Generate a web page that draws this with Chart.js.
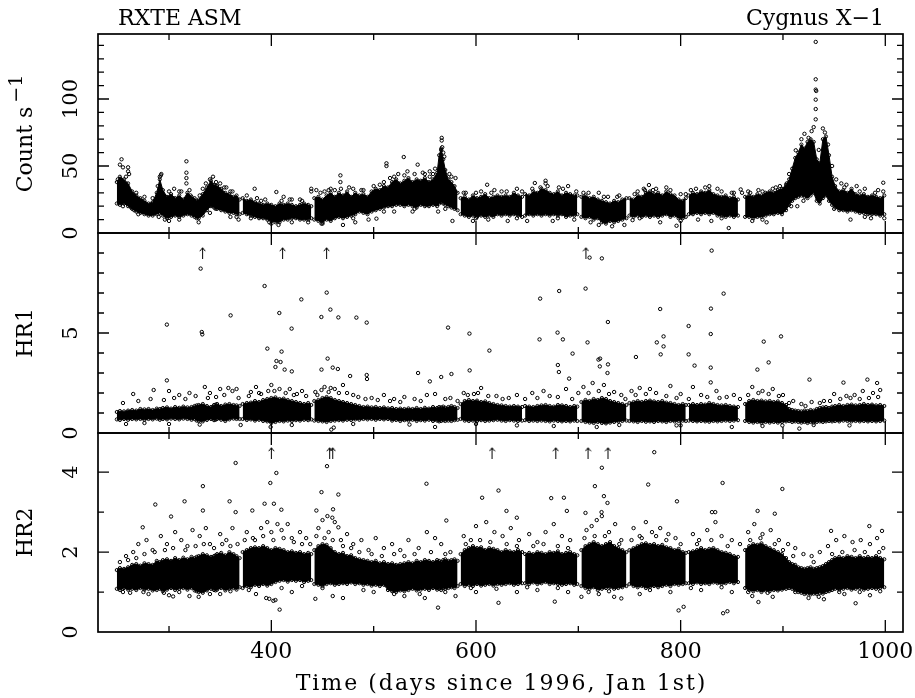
<!DOCTYPE html>
<html>
<head>
<meta charset="utf-8">
<script src="https://cdn.jsdelivr.net/npm/chart.js@4.4.1/dist/chart.umd.min.js"></script>
<style>
  html, body { margin: 0; padding: 0; background: #fff; }
  #wrap { position: relative; width: 915px; height: 698px; }
  canvas { position: absolute; left: 0; }
</style>
</head>
<body>
<div id="wrap">
  <canvas id="countPanel" width="915" height="245" style="top:0px"></canvas>
  <canvas id="hr1Panel" width="915" height="224" style="top:221px"></canvas>
  <canvas id="hr2Panel" width="915" height="277" style="top:421px"></canvas>
</div>
<script>
// Binned envelope of the dense light-curve band (days since 1996 Jan 1st); null = data gap
const days = [
  249, 252, 256, 260, 264, 268, 272, 276, 280, 284, 288, 291, 294, 298, 302, 306, 310, 314, 318, 322, 325, 327, 329, 333, 337, 341, 344, 345.5, 347, 351, 355, 359, 363, 366, 369, 370.5,
  372, 376, 380, 384, 388, 392, 396, 400, 404, 408, 412, 416, 420, 424, 428, 432, 436, 439, 440.5,
  442, 446, 450, 454, 458, 462, 466, 470, 474, 478, 482, 486, 490, 494, 498, 502, 506, 510, 514, 518, 522, 526, 530, 534, 538, 542, 546, 550, 554, 558, 562, 564, 566, 568, 570, 573, 576, 579, 582, 583.5,
  585, 589, 593, 597, 601, 605, 609, 613, 617, 621, 625, 629, 633, 637, 641, 645, 646.5,
  648, 652, 656, 660, 664, 668, 672, 676, 680, 684, 688, 692, 696, 699, 701,
  703, 707, 711, 715, 719, 723, 727, 731, 735, 739, 743, 747, 748.5,
  750, 754, 758, 762, 766, 770, 774, 778, 782, 786, 790, 794, 798, 802, 805, 806.5,
  808, 812, 816, 820, 824, 828, 832, 836, 840, 844, 848, 852, 856, 859,
  863, 867, 871, 875, 879, 883, 887, 891, 895, 899, 903, 906, 909, 912, 915, 918, 921, 924, 927, 930, 933, 936, 939, 942, 945, 948, 951, 955, 959, 963, 967, 971, 975, 979, 983, 987, 991, 995, 999
];

const countLo = [
  22,21,22,20,18,16,15,14,13,13, 14,15,13,11,12,13,12,13,14,13, 12,11, 11,13,17,20,19, 18, 18,17,16,15,15,14,14, null,
  15,14,13,12,11,11,10,9,8,8, 10,10,11,11,10,10,10,11, null,
  10,9,8,10,9,11,12,11,12,13, 14,16,15,14,16,17,18,19,20,20, 21,21,20,21,20,19,21,20,20,21, 20,22,23,22,21,20,19,18,17, null,
  14,13,12,13,12,13,12,13,12,14, 13,14,13,14,13,12, null,
  13,14,13,14,13,14,13,14,13,14, 12,13,13,14, null,
  12,11,12,10,11,8,7,9,8,9, 10,11, null,
  13,12,13,12,13,12,13,12,13,14, 12,13,11,11,12, null,
  14,14,15,14,15,14,15,13,13,12, 13,12,13, null,
  12,12,11,12,12,13,14,14,15,14, 17,21,24,26,27,28,27,26,28,30, 24,22,26,28,24,21,19,17,17,16, 17,16,15,15,14,14,14,13,14
];
const countHi = [
  38,42,40,37,31,28,26,24,22,23, 30,40,32,27,29,26,28,25,30,27, 26,24, 25,29,34,39,36, 35, 35,33,30,29,27,28,25, null,
  26,24,25,23,22,21,22,21,20,22, 21,22,21,20,21,22,21,20, null,
  26,27,25,28,30,27,30,28,31,27, 30,28,29,27,31,33,32,35,34,38, 40,37,39,41,38,40,39,41,38,40, 45,58,63,55,47,40,38,35,30, null,
  26,27,25,28,26,27,29,26,27,28, 27,28,27,30,28,27, null,
  29,28,31,30,33,32,30,29,31,28, 30,29,28,28, null,
  27,28,26,27,25,24,23,22,24,23, 25,26, null,
  26,25,28,27,30,31,29,30,28,31, 29,28,25,24,26, null,
  28,30,29,31,30,32,29,28,27,28, 26,27,25, null,
  27,28,27,29,28,30,31,30,32,33, 36,40,48,56,60,66,63,68,70,68, 55,52,70,72,58,42,35,31,32,30, 33,29,28,29,27,28,27,26,28
];

const hr1Lo = [
  0.68,0.65,0.7,0.66,0.7,0.68,0.7,0.66,0.7,0.68, 0.72,0.66,0.7,0.68,0.72,0.7,0.68,0.72,0.7,0.66, 0.7,0.62, 0.6,0.58,0.65,0.7,0.64, 0.66, 0.7,0.66,0.6,0.68,0.72,0.7,0.7, null,
  0.7,0.65,0.68,0.62,0.66,0.6,0.58,0.5,0.55,0.6, 0.58,0.62,0.6,0.64,0.62,0.66,0.64,0.68, null,
  0.62,0.6,0.58,0.55,0.6,0.62,0.64,0.62,0.66,0.65, 0.68,0.66,0.7,0.68,0.7,0.66,0.7,0.68,0.7,0.62, 0.65,0.6,0.64,0.62,0.66,0.6,0.64,0.62,0.66,0.6, 0.62,0.58,0.6,0.64,0.6,0.62,0.6,0.64,0.66, null,
  0.7,0.62,0.6,0.62,0.6,0.64,0.6,0.62,0.64,0.66, 0.62,0.6,0.64,0.62,0.6,0.62, null,
  0.64,0.6,0.62,0.6,0.62,0.6,0.58,0.62,0.6,0.58, 0.6,0.58,0.62,0.6, null,
  0.6,0.55,0.52,0.5,0.55,0.5,0.48,0.52,0.55,0.58, 0.6,0.62, null,
  0.6,0.58,0.55,0.6,0.56,0.58,0.55,0.6,0.58,0.55, 0.6,0.58,0.6,0.62,0.6, null,
  0.62,0.6,0.58,0.6,0.58,0.56,0.6,0.58,0.6,0.62, 0.6,0.62,0.64, null,
  0.6,0.55,0.52,0.55,0.5,0.55,0.52,0.55,0.52,0.55, 0.58,0.6,0.55,0.58,0.55,0.52,0.55,0.5,0.55,0.52, 0.55,0.58,0.55,0.58,0.6,0.58,0.6,0.58,0.62,0.6, 0.58,0.6,0.58,0.6,0.58,0.6,0.58,0.6,0.62
];
const hr1Hi = [
  1.05,1.1,1.08,1.12,1.15,1.12,1.2,1.18,1.2,1.15, 1.22,1.2,1.25,1.28,1.22,1.3,1.26,1.32,1.28,1.3, 1.35,1.38, 1.4,1.45,1.35,1.3,1.4, 1.42, 1.45,1.35,1.42,1.45,1.4,1.38,1.35, null,
  1.45,1.5,1.52,1.6,1.55,1.65,1.7,1.75,1.78,1.7, 1.72,1.65,1.6,1.55,1.5,1.45,1.5,1.4, null,
  1.6,1.65,1.75,1.8,1.75,1.65,1.6,1.55,1.5,1.45, 1.4,1.35,1.3,1.32,1.28,1.3,1.25,1.28,1.23,1.25, 1.2,1.22,1.2,1.23,1.2,1.25,1.2,1.26,1.22,1.3, 1.25,1.3,1.28,1.32,1.26,1.3,1.35,1.3,1.25, null,
  1.45,1.6,1.65,1.6,1.62,1.55,1.58,1.5,1.45,1.4, 1.38,1.35,1.32,1.35,1.32,1.3, null,
  1.35,1.32,1.3,1.35,1.38,1.4,1.35,1.32,1.4,1.38, 1.35,1.3,1.35,1.32, null,
  1.55,1.65,1.6,1.7,1.65,1.75,1.7,1.6,1.55,1.5, 1.45,1.4, null,
  1.5,1.55,1.6,1.55,1.6,1.62,1.58,1.55,1.6,1.52, 1.5,1.45,1.4,1.45,1.4, null,
  1.4,1.45,1.4,1.45,1.42,1.5,1.45,1.4,1.38,1.4, 1.35,1.32,1.3, null,
  1.45,1.6,1.65,1.6,1.62,1.58,1.6,1.55,1.58,1.5, 1.4,1.2,1.15,1.12,1.1,1.08,1.12,1.1,1.15,1.12, 1.2,1.25,1.28,1.3,1.25,1.32,1.35,1.4,1.35,1.4, 1.42,1.38,1.4,1.45,1.4,1.42,1.38,1.4,1.35
];

const hr2Lo = [
  1.08,1.05,1.1,1.06,1.08,1.05,1.1,1.06,1.08,1.04, 1.05,1.08,1.02,1.06,1.1,1.05,1.08,1.1,1.06,1.1, 1.04,1.02, 1.0,0.98,1.04,1.08,1.05, 1.04, 1.06,1.1,1.04,1.08,1.1,1.06,1.12, null,
  1.1,1.15,1.12,1.18,1.15,1.2,1.16,1.2,1.25,1.28, 1.3,1.26,1.3,1.28,1.3,1.25,1.28,1.3, null,
  1.2,1.18,1.15,1.2,1.22,1.18,1.2,1.22,1.2,1.24, 1.2,1.22,1.18,1.2,1.16,1.18,1.15,1.18,1.05,1.02, 1.0,1.04,1.02,1.05,1.08,1.04,1.06,1.08,1.05,1.1, 1.06,1.08,1.05,1.1,1.08,1.1,1.12,1.1,1.15, null,
  1.2,1.15,1.18,1.15,1.2,1.16,1.18,1.2,1.16,1.2, 1.18,1.2,1.22,1.18,1.2,1.22, null,
  1.22,1.2,1.24,1.2,1.22,1.25,1.2,1.22,1.2,1.18, 1.2,1.22,1.18,1.2, null,
  1.15,1.1,1.08,1.12,1.05,1.08,1.1,1.12,1.08,1.1, 1.12,1.15, null,
  1.2,1.15,1.12,1.15,1.1,1.12,1.15,1.12,1.15,1.18, 1.15,1.2,1.18,1.2,1.22, null,
  1.22,1.2,1.24,1.2,1.22,1.2,1.24,1.22,1.2,1.22, 1.25,1.22,1.25, null,
  1.1,1.05,1.02,1.05,1.0,1.04,1.02,1.05,1.04,1.06, 1.08,1.1,1.08,1.05,1.0,0.98,0.95,0.96,0.94,0.96, 0.95,0.98,0.96,1.0,1.02,1.05,1.08,1.06,1.08,1.1, 1.06,1.08,1.1,1.06,1.08,1.1,1.08,1.1,1.12
];
const hr2Hi = [
  1.55,1.6,1.58,1.62,1.68,1.7,1.66,1.72,1.7,1.68, 1.78,1.75,1.8,1.82,1.78,1.85,1.8,1.86,1.82,1.88, 1.85,1.88, 1.9,1.95,1.92,1.88,1.9, 1.92, 1.95,1.98,1.92,2.0,1.95,1.9,1.85, null,
  2.0,2.05,2.1,2.12,2.1,2.15,2.1,2.05,2.1,2.08, 2.05,2.0,2.02,1.98,2.0,1.95,1.98,1.95, null,
  2.05,2.15,2.2,2.18,2.1,2.0,1.95,1.98,1.9,1.92, 1.85,1.82,1.8,1.78,1.75,1.78,1.72,1.75,1.7,1.72, 1.68,1.7,1.72,1.75,1.72,1.78,1.75,1.8,1.78,1.75, 1.8,1.78,1.75,1.8,1.82,1.78,1.8,1.82,1.78, null,
  1.95,2.05,2.1,2.15,2.1,2.12,2.05,2.1,2.08,2.05, 2.0,2.05,2.02,2.0,2.05,2.0, null,
  1.95,1.98,1.95,2.0,1.98,1.95,2.0,1.98,2.02,1.95, 1.98,2.0,1.95,1.92, null,
  2.05,2.15,2.2,2.25,2.2,2.15,2.2,2.25,2.15,2.1, 2.05,2.0, null,
  2.05,2.1,2.15,2.2,2.22,2.18,2.2,2.15,2.18,2.12, 2.1,2.05,2.08,2.0,1.98, null,
  2.0,2.02,2.05,2.1,2.05,2.08,2.1,2.05,2.0,1.98, 1.95,1.9,1.88, null,
  2.05,2.15,2.2,2.18,2.22,2.15,2.1,2.05,2.0,1.95, 1.85,1.75,1.7,1.68,1.62,1.6,1.58,1.6,1.62,1.58, 1.6,1.62,1.65,1.7,1.75,1.8,1.85,1.88,1.85,1.9, 1.88,1.85,1.9,1.85,1.88,1.85,1.9,1.85,1.82
];

// Individual points outside the dense band: [day, value]
const countDots = [
  [253.6,55],[252,51],[255,49],[260,49],[260,46],[261,44],[258,30],[263,19],[266,17],
  [292.5,44],[292,43],[291,42],[289,35],[296,10],[300,9],[305,33],[310,31],[317,53.5],[317,45],[317,41],[317,37],[321,28],[329,8],[333,33],[336,37],[340,40],[343,42],[350,37],[356,34],[362,31],[366,12],[368,10],
  [383.7,33],[390,24],[398,8],[404.9,30.6],[407,6],[412,27],[420,25],[430,24],[436,8],
  [439,33],[439,31],[444,32],[449,7],[452,31],[458,33],[462,32],[467.5,43],[467.5,38],[470,6],[476,34],[482,8],[488,32],[495,10],[502.7,10.7],[506,36],[512.5,52],[512.5,50],[516,41],[520,16],[524,44],[529.4,56.7],[533,46],[538,16],[543,51],[548,45],[554.8,46],[554.8,42],[560,48],[563,16],[566.5,71],[566.5,69],[567,64],[566,62],[568,60],[569,57],[574,44],[577,9],[580,41],
  [590,30],[597,9],[605,31],[610.9,36],[612,10],[618,32],[625,31],[631,9],[640,33],[650,9],[657.5,37.3],[663,34],[668,39],[668,37],[675,9],[681,34],[690,35],[696,10],
  [705,30],[712,8],[720,30],[729,27],[733,5],[740,28],[745,6],[753,9.6],[758,31],[764,33],[769,35.8],[773,32],[780,8],[786,34],[796,5.4],[800,29],[810,32],[817,10],[824,34],[830,9],[836,33],[847,3.7],[852,30],[858.7,32.5],[860,30],
  [866,31],[870,9],[876,32],[884,8],[890,33],[897,35],[903.7,37],[906,44],[908,20],[912.5,61.7],[914,20],[918,70],[921,74],[925,71],[928,76],[930,79],[932,142.6],[932,114.7],[932,107],[932.5,106],[932,99.5],[932,92.5],[932,84.8],[935,62],[939,78],[941,75],[944,66],[948,50],[952,40],[957,37],[962,36],[966,10],[972,35],[980,33],[986,11],[993,32],[998,37.5],[998,31],[999,11],
  [250,40],[258,42],[268,30],[276,27],[284,26],[300,31],[312,31],[320,32],[330,28],[346,38],[354,34],[360,31],[376,28],[386,26],[394,25],[410,24],[418,25],[428,25],[448,30],[456,32],[468,33],[480,33],[490,32],[500,35],[510,38],[520,42],[530,43],[540,44],[550,44],[558,44],[576,42],[588,30],[600,30],[615,30],[630,31],[645,31],[655,33],[670,35],[685,33],[698,31],[710,30],[725,27],[738,27],[755,29],[765,32],[776,33],[790,32],[805,29],[815,33],[828,35],[840,31],[850,30],[868,30],[880,31],[893,34],[960,34],[975,31],[990,30],
  [255,20],[270,14],[290,12],[310,10],[340,15],[360,12],[380,11],[400,7],[420,8],[450,7],[480,11],[510,16],[540,18],[570,18],[600,11],[640,11],[680,11],[720,6],[760,11],[800,9],[840,11],[880,10],[920,24],[950,18],[980,12]
];

const hr1Dots = [
  [297.9,5.42],[330.9,8.22],[332,5.05],[332.5,4.93],[360.2,5.88],[393.4,7.35],[407.8,6.0],[429.3,6.68],[419.8,5.22],[454.1,7.02],[457.7,6.17],[448.9,5.8],[465.5,5.78],[483.1,5.77],[493.2,5.52],[572.7,5.27],
  [396.1,4.22],[410,4.07],[405,3.6],[409,3.55],[404,3.3],[413,3.17],[420,3.08],[455,3.72],[449,3.17],[460,3.27],[465,3.2],[297.9,2.63],[543.4,3.0],[554.9,2.58],[566,2.8],[576,2.95],[493.2,2.9],[493.5,2.7],[477,2.85],
  [399.3,0.3],[458.6,0.17],[461,0.27],
  [593.6,4.97],[593.8,3.13],[613.1,4.12],[662.7,6.72],[662.1,4.68],[681.3,7.1],[679.7,5.02],[684.9,4.68],[707.1,7.22],[711,8.77],[723,8.73],[728.9,5.55],[709,4.53],[694.4,3.97],[780,6.2],[776.7,4.53],[783.3,4.83],[783.3,4.33],[780.5,3.93],[756.3,3.8],[807.8,5.35],[807.8,3.93],[813.6,3.37],[830.3,9.12],[842,6.97],[829.6,6.22],[829.4,4.95],[829.4,3.27],[829.4,2.53],[881.2,4.57],[886,3.53],[898.1,4.83],[875,3.17],[925.9,2.67],[959.1,2.52],[982.5,2.67],[992,2.5],
  [680,3.4],[681,3.05],[691,2.72],[721,3.33],[721.3,3.72],[719.7,3.67],[729,3.43],[728.5,3.0],
  [796,0.38],[899.4,0.38],[916,0.22],[718,0.3],
  [265,1.95],[285,2.15],[300,2.1],[310,1.9],[320,2.0],[335,2.3],[340,2.0],[350,2.2],[358,2.25],[362,2.1],[366,2.2],[380,2.05],[385,2.3],[390,1.95],[400,2.4],[403,2.1],[418,2.2],[425,1.95],[430,2.1],[445,1.9],[452,2.3],[456,2.05],[462,2.2],[470,2.4],[474,2.0],[485,1.8],[498,1.75],[510,1.9],[520,1.7],[530,1.8],[540,1.7],[552,1.9],[560,1.95],[575,1.75],[588,2.0],[598,1.95],[605,2.25],[620,1.85],[632,1.75],[640,1.9],[655,2.0],[666,2.1],[672,1.85],[688,2.2],[700,2.0],[705,2.3],[714,2.5],[725,2.4],[735,2.05],[742,1.9],[752,2.1],[760,2.25],[770,2.2],[790,2.35],[800,1.95],[812,2.3],[820,1.9],[835,2.1],[845,1.8],[852,1.9],[858,1.7],[870,2.3],[880,2.1],[890,2.2],[900,1.9],[910,1.6],[918,1.45],[928,1.55],[940,1.6],[950,1.95],[962,1.85],[970,1.9],[978,2.1],[988,2.0],[995,2.15],
  [255,1.5],[270,1.6],[282,1.7],[295,1.65],[305,1.75],[316,1.7],[326,1.85],[338,1.75],[346,1.8],[354,1.9],[368,1.75],[378,1.85],[388,2.0],[397,2.1],[408,2.2],[414,2.0],[422,1.9],[434,1.85],[443,2.05],[449,2.15],[458,2.25],[466,2.0],[480,1.9],[492,1.7],[504,1.65],[516,1.6],[526,1.55],[546,1.6],[570,1.7],[582,1.6],[592,1.9],[602,2.0],[612,1.85],[626,1.7],[648,1.7],[660,1.75],[680,1.8],[694,1.7],[710,2.0],[720,2.1],[730,1.95],[746,1.7],[756,1.9],[766,1.95],[776,2.0],[786,1.85],[796,1.75],[808,1.7],[826,1.8],[838,1.75],[866,1.9],[876,2.0],[886,1.95],[896,1.85],[906,1.5],[922,1.35],[936,1.5],[946,1.6],[956,1.7],[966,1.75],[975,1.7],[984,1.75],[993,1.8],
  [258,0.45],[276,0.5],[300,0.45],[330,0.42],[370,0.4],[420,0.4],[480,0.45],[535,0.42],[560,0.3],[600,0.45],[640,0.38],[676,0.35],[740,0.4],[800,0.38],[850,0.3],[880,0.35],[930,0.4],[965,0.38]
];

const hr2Dots = [
  [365.1,4.23],[404.9,3.98],[399,3.73],[454.4,4.15],[333.1,3.65],[551.6,3.71],[286.6,3.19],[315.2,3.27],[359.2,3.27],[333.1,3.04],[365.1,3.0],[381.4,3.04],[393.4,3.21],[402.5,3.21],[409.8,3.06],[444,3.04],[449,3.5],[460.3,3.07],[465.5,3.44],[454.8,2.9],[459.6,2.86],[465.5,2.62],[302,2.89],[274.3,2.62],[571,2.79],
  [408.1,0.56],[402,0.78],[404,0.8],[398,0.83],[562.9,0.61],[443,0.83],[304,0.89],[329,0.88],
  [774.2,4.5],[723,4.11],[716.2,3.65],[768.3,3.69],[841,3.73],[899.4,3.58],[622,3.54],[606,3.36],[673.5,3.35],[685.9,3.36],[725,3.4],[728.5,3.23],[796.4,3.27],[629.8,3.03],[639.9,2.86],[688.8,3.03],[707,2.98],[722.7,3.0],[723,2.9],[830.6,3.0],[833.8,3.0],[875.2,3.03],[892,2.96],[984.4,2.65],[996.8,2.53],[947,2.53],
  [798,0.54],[802.9,0.63],[841.5,0.47],[845.7,0.52],[622,0.73],[677,0.76],[703,0.88],[742,0.84],[876,0.75],[971,0.72],
  [258,1.9],[265,2.0],[270,2.2],[278,2.3],[284,2.05],[292,2.4],[298,2.2],[306,2.5],[312,2.3],[318,2.15],[323,2.55],[330,2.4],[336,2.6],[340,2.2],[350,2.45],[356,2.3],[362,2.6],[367,2.2],[376,2.5],[384,2.3],[390,2.6],[396,2.75],[400,2.5],[406,2.7],[410,2.55],[416,2.7],[420,2.35],[428,2.5],[434,2.35],[446,2.6],[450,2.8],[456,2.5],[462,2.75],[468,2.3],[474,2.45],[480,2.2],[488,2.3],[495,2.05],[502,2.35],[510,2.1],[518,2.2],[526,2.05],[534,2.3],[544,2.1],[552,2.5],[560,2.35],[566,2.2],[575,2.0],[588,2.4],[595,2.3],[600,2.65],[610,2.75],[618,2.5],[626,2.4],[634,2.6],[642,2.3],[652,2.45],[660,2.25],[668,2.5],[676,2.7],[684,2.4],[692,2.3],[708,2.55],[713,2.65],[718,2.8],[730,2.5],[736,2.7],[742,2.3],[754,2.6],[760,2.4],[766,2.75],[772,2.5],[780,2.6],[788,2.45],[795,2.35],[812,2.45],[818,2.3],[826,2.55],[834,2.75],[840,2.4],[850,2.3],[858,2.2],[866,2.5],[872,2.7],[880,2.45],[888,2.55],[896,2.3],[905,2.2],[912,2.1],[920,1.95],[928,1.9],[936,2.0],[944,2.15],[952,2.3],[960,2.4],[968,2.25],[976,2.3],[985,2.2],[992,2.35],[998,2.1],
  [252,1.75],[260,1.8],[268,1.85],[276,1.95],[286,2.0],[296,2.05],[304,2.1],[316,2.05],[326,2.15],[334,2.2],[344,2.1],[352,2.2],[360,2.15],[374,2.3],[382,2.35],[392,2.4],[402,2.3],[412,2.35],[422,2.25],[430,2.2],[438,2.2],[444,2.4],[452,2.35],[460,2.3],[470,2.15],[478,2.1],[486,2.0],[498,1.95],[508,1.9],[520,1.95],[530,1.9],[540,1.95],[556,2.0],[570,1.95],[590,2.2],[604,2.3],[614,2.25],[630,2.2],[640,2.15],[656,2.15],[666,2.2],[680,2.15],[690,2.1],[706,2.35],[716,2.4],[726,2.4],[740,2.2],[752,2.3],[762,2.35],[776,2.4],[786,2.3],[800,2.2],[816,2.2],[830,2.3],[846,2.15],[868,2.3],[878,2.35],[892,2.2],[900,2.05],[910,1.9],[930,1.75],[948,1.95],[958,2.0],[970,2.05],[980,2.0],[994,2.0],
  [262,0.98],[280,0.95],[300,0.92],[320,0.9],[350,0.95],[385,0.95],[395,0.85],[420,1.0],[460,0.9],[470,0.85],[500,1.0],[530,0.9],[550,0.85],[580,0.9],[600,1.0],[640,1.0],[660,1.05],[690,1.0],[720,0.95],[735,0.88],[760,0.95],[790,1.0],[820,1.05],[850,1.0],[870,0.9],[890,0.88],[925,0.85],[940,0.82],[960,0.95],[985,0.92],
  [255,1.0],[275,1.0],[295,0.98],[310,1.0],[340,0.95],[360,1.02],[378,1.05],[410,1.1],[430,1.15],[450,1.1],[490,1.05],[520,0.95],[545,0.95],[570,1.0],[595,1.1],[620,1.08],[650,1.12],[680,1.1],[710,1.0],[730,1.02],[770,1.05],[810,1.1],[840,1.12],[866,1.0],[885,0.98],[912,1.0],[935,0.88],[955,1.0],[975,1.0],[995,1.02]
];

// Off-scale points shown as upward arrows
const hr1ArrowDays = [332.8, 411, 454, 707.4];
const hr1ArrowLevel = 9.0;
const hr2ArrowDays = [400, 457, 460, 615.7, 678, 709.5, 729];
const hr2ArrowLevel = 4.48;

// Axis ticks
const xMin = 230.6, xMax = 1017.3;
const xTicks = [300, 400, 500, 600, 700, 800, 900, 1000];
const xTickLabels = [400, 600, 800, 1000];
const countTicks = [10, 20, 30, 40, 50, 60, 70, 80, 90, 100, 110, 120, 130, 140];
const countLabels = [0, 50, 100];
const hr1Ticks = [1, 2, 3, 4, 5, 6, 7, 8, 9];
const hr1Labels = [0, 5];
const hr2Ticks = [1, 2, 3, 4];
const hr2Labels = [0, 2, 4];

const SERIF = "'DejaVu Serif', 'Liberation Serif', serif";

const arrowImg = document.createElement('canvas');
arrowImg.width = 7;
arrowImg.height = 12;
(function () {
  const c = arrowImg.getContext('2d');
  c.strokeStyle = '#000';
  c.lineWidth = 1;
  c.beginPath();
  c.moveTo(3.5, 12); c.lineTo(3.5, 0.8);
  c.moveTo(0.8, 4.2); c.lineTo(3.5, 0.8); c.lineTo(6.2, 4.2);
  c.stroke();
})();

const framePlugin = {
  id: 'frame',
  afterDraw(chart, args, opts) {
    const {ctx, chartArea: a, scales: {x, y}} = chart;
    ctx.save();
    ctx.strokeStyle = '#000';
    ctx.fillStyle = '#000';
    ctx.lineWidth = 1.3;
    ctx.beginPath();
    xTicks.forEach(v => {
      const px = x.getPixelForValue(v);
      const len = xTickLabels.includes(v) ? 12 : 6;
      ctx.moveTo(px, a.top); ctx.lineTo(px, a.top + len);
      ctx.moveTo(px, a.bottom); ctx.lineTo(px, a.bottom - len);
    });
    opts.yTicks.forEach(v => {
      const py = y.getPixelForValue(v);
      const len = opts.yLabels.includes(v) ? 11 : 6;
      ctx.moveTo(a.left, py); ctx.lineTo(a.left + len, py);
      ctx.moveTo(a.right, py); ctx.lineTo(a.right - len, py);
    });
    ctx.stroke();
    ctx.lineWidth = 1.7;
    ctx.strokeRect(a.left, a.top, a.right - a.left, a.bottom - a.top);

    ctx.font = '21px ' + SERIF;
    ctx.textAlign = 'center';
    ctx.textBaseline = 'middle';
    opts.yLabels.forEach(v => {
      ctx.save();
      ctx.translate(72, y.getPixelForValue(v));
      ctx.rotate(-Math.PI / 2);
      ctx.fillText(String(v), 0, 0);
      ctx.restore();
    });

    // y-axis title with a raised exponent
    if (opts.yTitle) {
      ctx.save();
      ctx.translate(26, (a.top + a.bottom) / 2);
      ctx.rotate(-Math.PI / 2);
      ctx.textAlign = 'left';
      ctx.font = '22px ' + SERIF;
      const w1 = ctx.measureText(opts.yTitle[0]).width;
      ctx.font = '19px ' + SERIF;
      const w2 = opts.yTitle[1] ? ctx.measureText(opts.yTitle[1]).width + 4 : 0;
      const x0 = -(w1 + w2) / 2;
      ctx.font = '22px ' + SERIF;
      ctx.fillText(opts.yTitle[0], x0, 0);
      if (opts.yTitle[1]) {
        ctx.font = '19px ' + SERIF;
        ctx.fillText(opts.yTitle[1], x0 + w1 + 4, -9);
      }
      ctx.restore();
    }

    if (opts.xTitle) {
      ctx.font = '22px ' + SERIF;
      xTickLabels.forEach(v => ctx.fillText(String(v), x.getPixelForValue(v), a.bottom + 20));
      ctx.save();
      ctx.letterSpacing = '2px';
      ctx.textBaseline = 'alphabetic';
      ctx.fillText(opts.xTitle, (a.left + a.right) / 2 + 1, a.bottom + 58);
      ctx.restore();
    }
    if (opts.header) {
      ctx.font = '22px ' + SERIF;
      ctx.textBaseline = 'alphabetic';
      ctx.textAlign = 'left';
      ctx.fillText('RXTE ASM', 118, 25);
      ctx.textAlign = 'right';
      ctx.fillText('Cygnus X\u22121', 884, 25);
    }
    ctx.restore();
  }
};

function pts(xs, ys) {
  return xs.map((d, i) => ({x: d, y: ys[i]}));
}

function makePanel(id, cfg) {
  const edge = {
    type: 'line', borderColor: '#000', borderWidth: 1, tension: 0, spanGaps: false,
    pointRadius: 1.6, pointBorderWidth: 1, pointBorderColor: '#000', pointBackgroundColor: 'rgba(0,0,0,0)'
  };
  const datasets = [
    Object.assign({}, edge, {data: pts(days, cfg.lo), fill: false}),
    Object.assign({}, edge, {data: pts(days, cfg.hi), fill: '-1', backgroundColor: '#000'}),
    {
      data: cfg.dots.map(([d, v]) => ({x: d, y: v})),
      pointRadius: 1.7, pointBorderWidth: 1, pointBorderColor: '#000', pointBackgroundColor: 'rgba(0,0,0,0)'
    }
  ];
  if (cfg.arrows) {
    datasets.push({
      data: cfg.arrows.map(d => ({x: d, y: cfg.arrowLevel})),
      pointStyle: arrowImg, pointRadius: 6
    });
  }
  const hasX = !!cfg.xTitle;
  return new Chart(document.getElementById(id), {
    type: 'scatter',
    data: {datasets},
    options: {
      responsive: false,
      animation: false,
      events: [],
      layout: {padding: cfg.padding},
      plugins: {
        legend: {display: false},
        tooltip: {enabled: false},
        frame: {yTicks: cfg.yTicks, yLabels: cfg.yLabels, yTitle: cfg.yTitle,
                xTitle: cfg.xTitle, header: !!cfg.header}
      },
      scales: {
        x: {
          type: 'linear', min: xMin, max: xMax,
          display: hasX,
          ticks: {display: false},
          grid: {display: false},
          border: {display: false},
          title: {display: false},
          afterFit: s => { s.height = hasX ? 66 : 0; }
        },
        y: {
          type: 'linear', min: 0, max: cfg.yMax,
          ticks: {display: false},
          grid: {display: false},
          border: {display: false},
          title: {display: false},
          afterFit: s => { s.width = 98; }
        }
      }
    },
    plugins: [framePlugin]
  });
}

makePanel('countPanel', {
  lo: countLo, hi: countHi, dots: countDots, yMax: 148.5,
  yTicks: countTicks, yLabels: countLabels, yTitle: ['Count s', '\u22121'], header: true,
  padding: {top: 34, bottom: 12, left: 0, right: 12}
});
makePanel('hr1Panel', {
  lo: hr1Lo, hi: hr1Hi, dots: hr1Dots, yMax: 10,
  arrows: hr1ArrowDays, arrowLevel: hr1ArrowLevel,
  yTicks: hr1Ticks, yLabels: hr1Labels, yTitle: ['HR1'],
  padding: {top: 12, bottom: 12, left: 0, right: 12}
});
makePanel('hr2Panel', {
  lo: hr2Lo, hi: hr2Hi, dots: hr2Dots, yMax: 4.98,
  arrows: hr2ArrowDays, arrowLevel: hr2ArrowLevel,
  yTicks: hr2Ticks, yLabels: hr2Labels, yTitle: ['HR2'],
  xTitle: 'Time (days since 1996, Jan 1st)',
  padding: {top: 12, bottom: 0, left: 0, right: 12}
});
</script>
</body>
</html>
